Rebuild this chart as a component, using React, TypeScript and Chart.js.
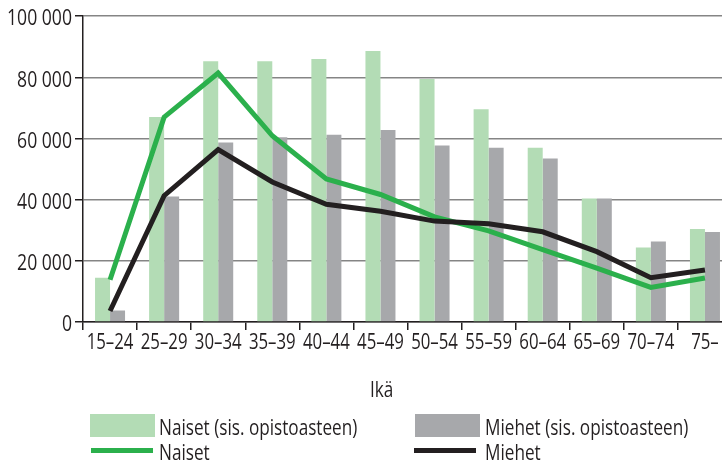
import React, { useEffect, useRef } from "react";
import { Chart, registerables } from "chart.js";

Chart.register(...registerables);

const categories = ["15–24", "25–29", "30–34", "35–39", "40–44", "45–49", "50–54", "55–59", "60–64", "65–69", "70–74", "75–"];
const naisetOpisto = [14500, 67000, 85300, 85300, 86000, 88600, 79500, 69600, 57000, 40400, 24400, 30400];
const miehetOpisto = [3800, 41000, 58700, 60400, 61200, 62800, 57700, 57000, 53500, 40400, 26300, 29400];
const naiset = [13800, 67000, 81400, 60900, 46800, 41700, 34400, 29800, 23700, 17600, 11300, 14400];
const miehet = [3600, 41300, 56400, 45800, 38500, 36200, 33000, 32100, 29500, 23000, 14500, 17000];
const yMax = 100000;
const yStep = 20000;

const FONT = '"Open Sans", "Noto Sans", sans-serif';
const TEXT = "#231f20";
const GREEN_BAR = "#b3dcb5";
const GREY_BAR = "#a7a8ab";
const GREEN_LINE = "#2bb04c";
const BLACK_LINE = "#231f20";
const CONDENSE = 0.8;

function fmt(v: number): string {
  return String(v).replace(/\B(?=(\d{3})+(?!\d))/g, " ");
}

// Draws the axis labels horizontally condensed (like the narrow face of the original).
const condensePlugin = {
  id: "condenseText",
  beforeDraw(chart: any) {
    const ctx = chart.ctx;
    const orig = ctx.fillText;
    ctx.__origFillText = orig;
    ctx.fillText = function (text: string, x: number, y: number, maxWidth?: number) {
      const w = this.measureText(text).width * CONDENSE;
      const mw = maxWidth !== undefined ? Math.min(maxWidth, w) : w;
      return orig.call(this, text, x, y, mw);
    };
  },
  afterDraw(chart: any) {
    const ctx = chart.ctx;
    if (ctx.__origFillText) {
      ctx.fillText = ctx.__origFillText;
      delete ctx.__origFillText;
    }
  },
};

export default function App() {
  const ref = useRef<HTMLCanvasElement | null>(null);
  useEffect(() => {
    if (!ref.current) return;
    const chart = new Chart(ref.current, {
      type: "bar",
      data: {
        labels: categories,
        datasets: [
          { type: "line", label: "Miehet", data: miehet, borderColor: BLACK_LINE, borderWidth: 5, pointRadius: 0, tension: 0, borderJoinStyle: "miter", order: 0 } as any,
          { type: "line", label: "Naiset", data: naiset, borderColor: GREEN_LINE, borderWidth: 5, pointRadius: 0, tension: 0, borderJoinStyle: "miter", order: 1 } as any,
          { type: "bar", label: "Naiset (sis. opistoasteen)", data: naisetOpisto, backgroundColor: GREEN_BAR, order: 2, categoryPercentage: 0.555, barPercentage: 1 },
          { type: "bar", label: "Miehet (sis. opistoasteen)", data: miehetOpisto, backgroundColor: GREY_BAR, order: 3, categoryPercentage: 0.555, barPercentage: 1 },
        ],
      },
      options: {
        responsive: false,
        animation: false,
        layout: { padding: { top: 10, right: 8, bottom: 100, left: 0 } },
        plugins: { legend: { display: false }, tooltip: { enabled: false } },
        scales: {
          x: {
            offset: true,
            grid: { offset: true, drawOnChartArea: false, drawTicks: true, tickLength: 8, tickColor: TEXT, lineWidth: 1.5 },
            border: { display: true, color: TEXT, width: 1.5 },
            ticks: { font: { family: FONT, size: 21 }, color: TEXT, padding: 0, maxRotation: 0, autoSkip: false },
            afterFit: (s: any) => { s.height = 44; },
          },
          y: {
            min: 0,
            max: yMax,
            ticks: { stepSize: yStep, font: { family: FONT, size: 22 }, color: TEXT, padding: 3, labelOffset: 3, callback: (v: any) => fmt(Number(v)) },
            grid: { color: "#858585", lineWidth: 1.5, tickLength: 8, tickColor: TEXT },
            border: { display: true, color: TEXT, width: 1.5 },
            afterFit: (s: any) => { s.width = 83; },
          },
        },
      },
      plugins: [condensePlugin],
    });
    return () => chart.destroy();
  }, []);

  const textStyle: React.CSSProperties = {
    position: "absolute",
    fontFamily: FONT,
    fontSize: 22,
    color: TEXT,
    lineHeight: "30px",
    whiteSpace: "nowrap",
    transform: "scaleX(0.78)",
    transformOrigin: "0 0",
  };

  return (
    <div style={{ position: "fixed", left: 0, top: 0, width: 722, height: 466, overflow: "hidden", background: "#fff" }}>
      <canvas ref={ref} width={740} height={466} style={{ position: "absolute", left: 0, top: 0 }} />
      <div style={{ ...textStyle, left: 370, top: 373 }}>Ikä</div>
      <div style={{ position: "absolute", left: 90, top: 414, width: 65, height: 23, background: GREEN_BAR }} />
      <div style={{ ...textStyle, left: 159, top: 411 }}>Naiset (sis. opistoasteen)</div>
      <div style={{ position: "absolute", left: 91, top: 448, width: 62, height: 5, background: GREEN_LINE }} />
      <div style={{ ...textStyle, left: 159, top: 436 }}>Naiset</div>
      <div style={{ position: "absolute", left: 415, top: 414, width: 65, height: 23, background: GREY_BAR }} />
      <div style={{ ...textStyle, left: 485, top: 411 }}>Miehet (sis. opistoasteen)</div>
      <div style={{ position: "absolute", left: 414, top: 448, width: 62, height: 5, background: BLACK_LINE }} />
      <div style={{ ...textStyle, left: 485, top: 436 }}>Miehet</div>
    </div>
  );
}
